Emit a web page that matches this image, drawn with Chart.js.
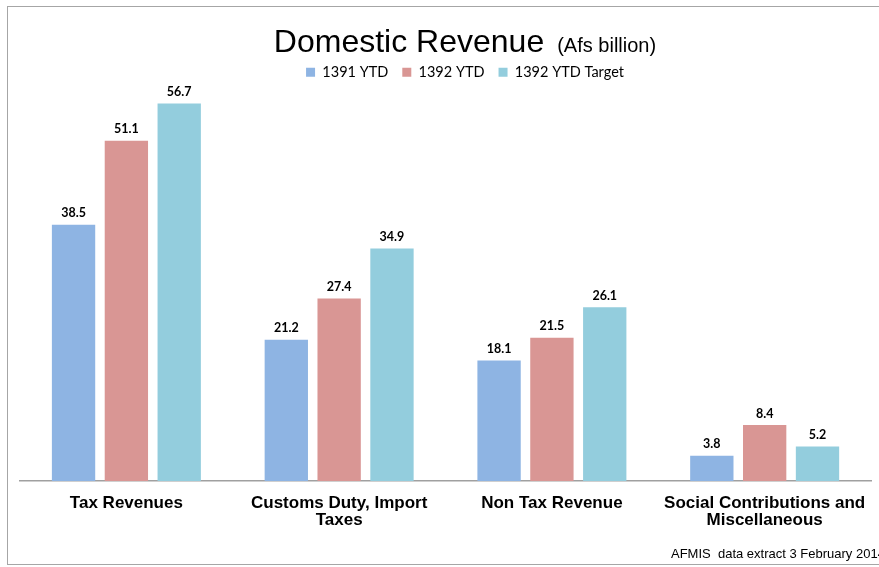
<!DOCTYPE html>
<html>
<head>
<meta charset="utf-8">
<title>Domestic Revenue</title>
<script src="https://cdn.jsdelivr.net/npm/chart.js@4.4.1/dist/chart.umd.min.js"></script>
<style>
  html, body { margin: 0; padding: 0; background: #fff; }
  #wrap { width: 879px; height: 567px; }
</style>
</head>
<body>
<div id="wrap"><canvas id="revchart" width="879" height="567"></canvas></div>
<script>
var categories = [
  "Tax Revenues",
  ["Customs Duty, Import", "Taxes"],
  "Non Tax Revenue",
  ["Social Contributions and", "Miscellaneous"]
];
var seriesNames = ["1391 YTD", "1392 YTD", "1392 YTD Target"];
var ytd1391 = [38.5, 21.2, 18.1, 3.8];
var ytd1392 = [51.1, 27.4, 21.5, 8.4];
var target1392 = [56.7, 34.9, 26.1, 5.2];
var colors = ["#8EB4E3", "#D99694", "#93CDDD"];

var sansFont = "'Liberation Sans', Arial, sans-serif";
var calFont = "Lato, 'Open Sans', sans-serif";

// frame, title and source note drawn straight onto the canvas
var decorations = {
  id: "decorations",
  afterLayout: function (chart) {
    // centre the legend row under the title
    var lg = chart.legend;
    var dx = 465 - (lg.left + lg.right) / 2;
    var dy = 51 - lg.top;
    lg.left += dx; lg.right += dx;
    lg.top += dy; lg.bottom += dy;
  },
  beforeDraw: function (chart) {
    var ctx = chart.ctx;
    ctx.save();
    ctx.fillStyle = "#fff";
    ctx.fillRect(0, 0, chart.width, chart.height);
    ctx.strokeStyle = "#A6A6A6";
    ctx.lineWidth = 1;
    ctx.strokeRect(7.5, 6.5, 1000, 558);
    ctx.restore();
  },
  afterDraw: function (chart) {
    var ctx = chart.ctx;
    ctx.save();
    ctx.fillStyle = "#000";
    ctx.textBaseline = "alphabetic";
    ctx.textAlign = "left";
    var main = "Domestic Revenue", unit = "(Afs billion)";
    ctx.font = "32px " + sansFont;
    var w1 = ctx.measureText(main).width;
    ctx.font = "20px " + sansFont;
    var w2 = ctx.measureText(unit).width;
    var x0 = 465 - (w1 + 13 + w2) / 2;
    ctx.font = "32px " + sansFont;
    ctx.fillText(main, x0, 52);
    ctx.font = "20px " + sansFont;
    ctx.fillText(unit, x0 + w1 + 13, 52);

    ctx.font = "13px " + sansFont;
    ctx.fillText("AFMIS  data extract 3 February 2014", 671, 558);
    ctx.restore();
  }
};

// value printed above each bar
var barValues = {
  id: "barValues",
  afterDatasetsDraw: function (chart) {
    var ctx = chart.ctx;
    ctx.save();
    ctx.font = "bold 12.5px " + calFont;
    ctx.fillStyle = "#000";
    ctx.textAlign = "center";
    ctx.textBaseline = "alphabetic";
    chart.data.datasets.forEach(function (ds, i) {
      chart.getDatasetMeta(i).data.forEach(function (bar, j) {
        ctx.fillText(ds.data[j].toFixed(1), bar.x, bar.y - 7.5);
      });
    });
    ctx.restore();
  }
};

new Chart(document.getElementById("revchart"), {
  type: "bar",
  data: {
    labels: categories,
    datasets: [
      { label: seriesNames[0], data: ytd1391, backgroundColor: colors[0] },
      { label: seriesNames[1], data: ytd1392, backgroundColor: colors[1] },
      { label: seriesNames[2], data: target1392, backgroundColor: colors[2] }
    ]
  },
  options: {
    responsive: false,
    animation: false,
    categoryPercentage: 0.745,
    barPercentage: 0.82,
    layout: { padding: { top: 43, left: 20, right: 6, bottom: 0 } },
    plugins: {
      title: { display: false },
      tooltip: { enabled: false },
      legend: {
        position: "top",
        labels: {
          boxWidth: 9,
          boxHeight: 9,
          padding: 14,
          color: "#000",
          font: { family: calFont, size: 14.5 }
        }
      }
    },
    scales: {
      x: {
        grid: { display: false, drawTicks: false },
        border: { display: true, color: "#A0A0A0", width: 1.5 },
        ticks: {
          color: "#000",
          padding: 13,
          maxRotation: 0,
          autoSkip: false,
          font: { family: sansFont, size: 17, weight: "bold", lineHeight: 1.05 }
        },
        afterFit: function (scale) { scale.height = 86; }
      },
      y: {
        display: false,
        min: 0,
        max: 60
      }
    }
  },
  plugins: [decorations, barValues]
});
</script>
</body>
</html>
